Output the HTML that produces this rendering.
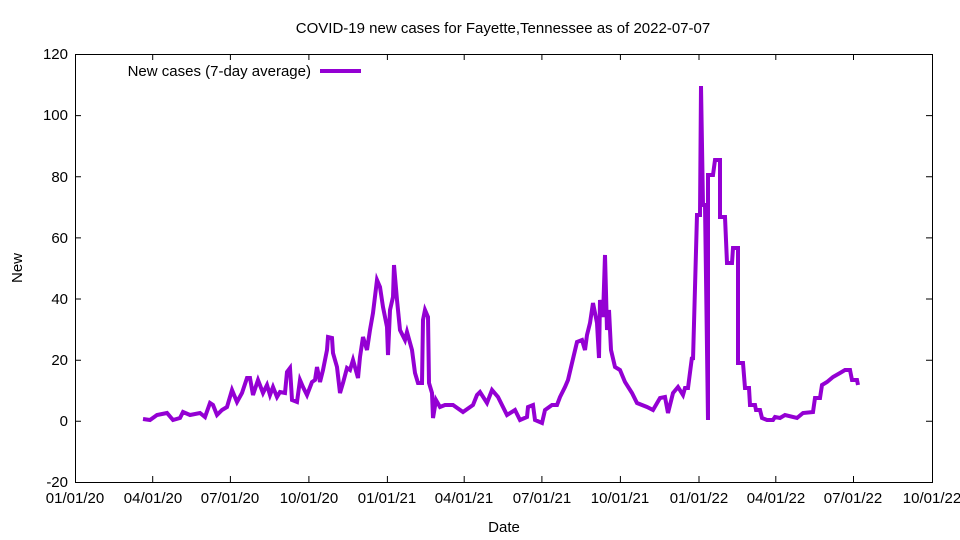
<!DOCTYPE html>
<html><head><meta charset="utf-8"><style>body{margin:0;background:#fff}svg{display:block}text{font-family:"Liberation Sans",sans-serif;font-size:15px;fill:#000}</style></head><body>
<svg width="960" height="540" xmlns="http://www.w3.org/2000/svg">
<rect width="960" height="540" fill="#fff"/>
<text x="503" y="33" text-anchor="middle">COVID-19 new cases for Fayette,Tennessee as of 2022-07-07</text>
<g stroke="#000" stroke-width="1" fill="none">
<rect x="75.5" y="54.5" width="857" height="428"/>
<path d="M75 54.5h6M932 54.5h-6M75 115.6h6M932 115.6h-6M75 176.8h6M932 176.8h-6M75 237.9h6M932 237.9h-6M75 299h6M932 299h-6M75 360.2h6M932 360.2h-6M75 421.3h6M932 421.3h-6M75 482.5h6M932 482.5h-6"/>
<path d="M152.7 482v-6M152.7 54v6M230.4 482v-6M230.4 54v6M308.9 482v-6M308.9 54v6M387.4 482v-6M387.4 54v6M464.2 482v-6M464.2 54v6M541.9 482v-6M541.9 54v6M620.4 482v-6M620.4 54v6M699 482v-6M699 54v6M775.8 482v-6M775.8 54v6M853.5 482v-6M853.5 54v6"/>
</g>
<g text-anchor="end">
<text x="68" y="59">120</text><text x="68" y="120">100</text><text x="68" y="182">80</text><text x="68" y="243">60</text><text x="68" y="304">40</text><text x="68" y="365">20</text><text x="68" y="426">0</text><text x="68" y="487">-20</text>
</g>
<g text-anchor="middle">
<text x="75" y="503">01/01/20</text><text x="153" y="503">04/01/20</text><text x="230" y="503">07/01/20</text><text x="309" y="503">10/01/20</text><text x="387" y="503">01/01/21</text><text x="464" y="503">04/01/21</text><text x="542" y="503">07/01/21</text><text x="620" y="503">10/01/21</text><text x="699" y="503">01/01/22</text><text x="776" y="503">04/01/22</text><text x="853" y="503">07/01/22</text><text x="932" y="503">10/01/22</text>
<text x="504" y="532">Date</text>
</g>
<text transform="translate(22,268) rotate(-90)" text-anchor="middle">New</text>
<text x="311" y="76" text-anchor="end">New cases (7-day average)</text>
<g stroke="#9400d3" stroke-width="4" fill="none" stroke-linejoin="miter">
<path d="M320 71h41"/>
<polyline points="143,419 150,420 157,415 167,413 173,420 180,418 183,412 190,415 200,413 205,417 210,403 213,405 217,415 222,410 227,407 232,390 237,402 242,393 247,378 250,378 253,395 258,380 263,393 267,385 270,395 273,387 277,397 280,392 285,393 287,372 290,368 292,400 297,402 300,380 303,387 307,395 312,382 315,380 317,367 320,382 323,370 327,350 328,337 332,338 333,353 337,367 340,393 343,383 347,368 350,370 353,360 358,378 360,357 363,337 367,350 370,330 373,313 377,280 380,287 383,307 387,327 388,355 390,310 393,297 394,265 397,300 400,330 405,340 407,332 412,350 415,373 418,383 422,383 423,320 425,310 428,317 429,383 432,393 433,418 436,400 440,407 445,405 453,405 463,412 473,405 477,395 480,392 487,403 492,390 498,397 507,415 515,410 520,420 527,417 528,407 533,405 535,420 542,423 545,410 552,405 557,405 560,397 565,387 568,380 572,363 577,342 582,340 585,350 587,335 590,323 593,303 597,323 599,358 600,300 603,317 605,255 607,330 609,310 611,350 615,367 620,370 625,382 632,393 637,403 647,407 653,410 660,398 665,397 668,413 673,393 678,387 683,395 685,388 688,388 692,357 693,360 697,215 700,215 701,86 703,205 705,205 708,420 708,175 713,175 715,160 720,160 720,217 725,217 727,263 732,263 733,248 738,248 738,363 743,363 745,388 749,388 750,405 755,405 756,410 760,410 762,418 767,420 773,420 775,417 780,418 785,415 797,418 803,413 813,412 815,398 820,398 822,385 827,382 833,377 840,373 845,370 850,370 852,380 857,380 858,385"/>
</g>
</svg>
</body></html>
